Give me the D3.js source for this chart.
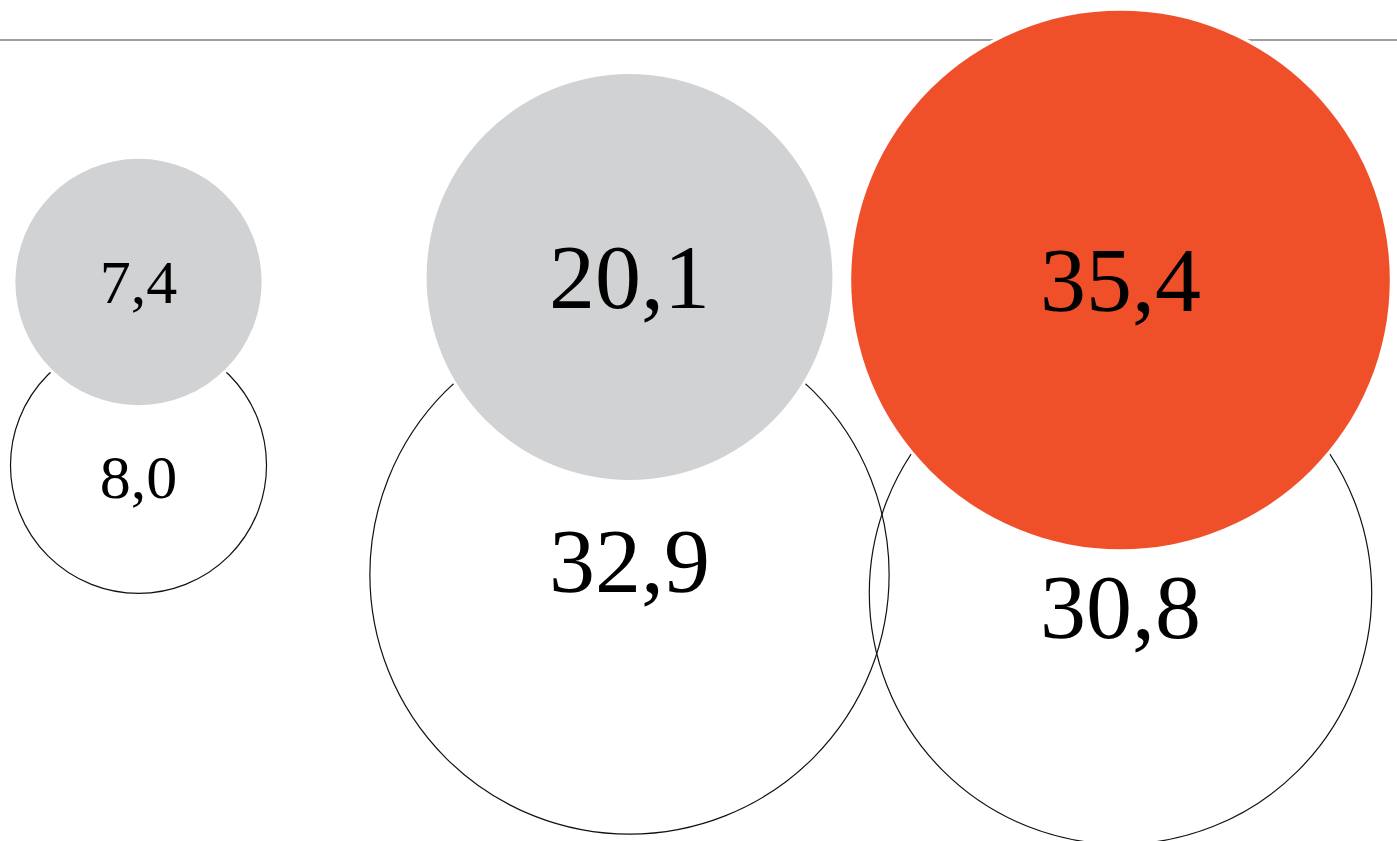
<!DOCTYPE html>
<html>
<head>
<meta charset="utf-8">
<script src="https://cdn.jsdelivr.net/npm/d3@7"></script>
<style>
  html, body { margin: 0; padding: 0; background: #fff; overflow: hidden; }
  svg { display: block; }
</style>
</head>
<body>
<svg id="chart" width="1397" height="841"></svg>
<script>
// ---- data ----
const groups = ["g1", "g2", "g3"];
const filledValues = [7.4, 20.1, 35.4];
const outlineValues = [8.0, 32.9, 30.8];

// ---- layout (hand-placed composition) ----
const filledCenterY = [282, 277, 280];
const outlineCenterY = [465.3, 574.5, 593];
const outlineLabelMidY = [477.5, 561, 607];

const W = 1397, H = 841;
const svg = d3.select("#chart");

const fmt = d3.formatLocale({ decimal: ",", thousands: ".", grouping: [3], currency: ["", ""] }).format(".1f");

const x = d3.scalePoint().domain(groups).range([138.5, 1120.5]);
const r = d3.scaleSqrt().domain([0, 35.4]).range([0, 269.3]);

const grey = "#d1d2d4", orange = "#f05029";
const fontSize = v => (r(v) < 150 ? 62 : 92);
const fontFamily = "'Liberation Serif', 'DejaVu Serif', serif";

// top rule
svg.append("line")
  .attr("x1", 0).attr("x2", W)
  .attr("y1", 40).attr("y2", 40)
  .attr("stroke", "#7f7f7f").attr("stroke-width", 1.6);

const data = groups.map((g, i) => ({
  g, i,
  fv: filledValues[i], ov: outlineValues[i],
  fcy: filledCenterY[i], ocy: outlineCenterY[i], olab: outlineLabelMidY[i]
}));

// outline circles
svg.append("g").selectAll("circle").data(data).join("circle")
  .attr("cx", d => x(d.g)).attr("cy", d => d.ocy)
  .attr("r", d => r(d.ov))
  .attr("fill", "none").attr("stroke", "#111").attr("stroke-width", 1.2);

// outline labels
svg.append("g").selectAll("text").data(data).join("text")
  .attr("x", d => x(d.g))
  .attr("y", d => d.olab + 0.338 * fontSize(d.ov))
  .attr("text-anchor", "middle")
  .attr("font-family", fontFamily)
  .attr("font-size", d => fontSize(d.ov))
  .attr("fill", "#000")
  .text(d => fmt(d.ov));

// halo + filled circles
const fg = svg.append("g").selectAll("g").data(data).join("g");
fg.append("circle")
  .attr("cx", d => x(d.g)).attr("cy", d => d.fcy)
  .attr("r", d => r(d.fv) + 3)
  .attr("fill", "#fff");
fg.append("circle")
  .attr("cx", d => x(d.g)).attr("cy", d => d.fcy)
  .attr("r", d => r(d.fv))
  .attr("fill", d => d.i === 2 ? orange : grey);
fg.append("text")
  .attr("x", d => x(d.g))
  .attr("y", d => d.fcy + 0.338 * fontSize(d.fv))
  .attr("text-anchor", "middle")
  .attr("font-family", fontFamily)
  .attr("font-size", d => fontSize(d.fv))
  .attr("fill", "#000")
  .text(d => fmt(d.fv));
</script>
</body>
</html>
